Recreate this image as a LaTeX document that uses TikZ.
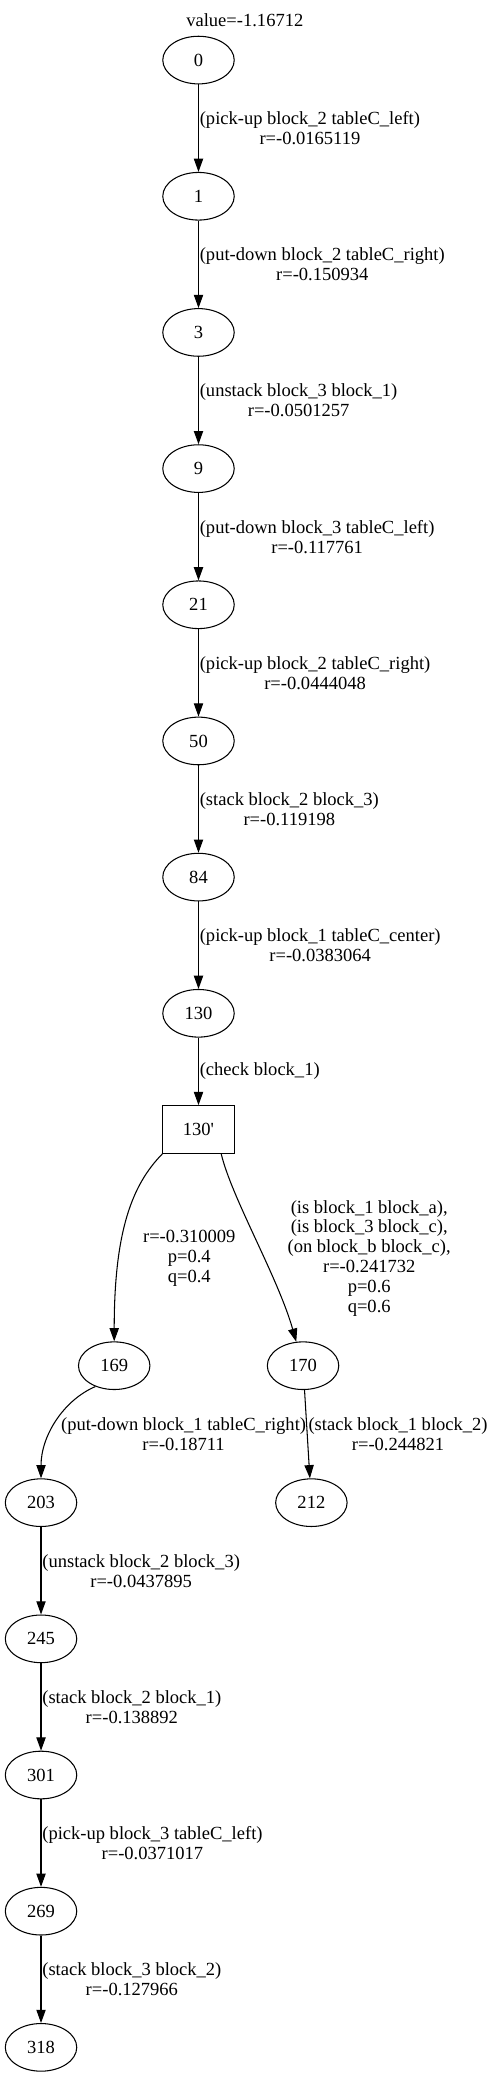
\documentclass[tikz,border=0pt]{standalone}
\usepackage{fontspec}
\setmainfont{Liberation Serif}
\usetikzlibrary{shapes.geometric,arrows.meta}
\begin{document}
\begin{tikzpicture}[x=1pt,y=-1pt,
  every node/.style={font=\fontsize{14}{15.1}\selectfont},
  st/.style={draw, ellipse, line width=0.8pt, minimum width=54pt, minimum height=36pt, inner sep=0pt},
  bx/.style={draw, rectangle, line width=0.8pt, minimum width=55pt, minimum height=36pt, inner sep=0pt},
  arr/.style={line width=0.8pt, -{Triangle[length=10pt,width=7pt]}},
  lbl/.style={anchor=west, align=center, inner sep=0.6pt},
  clbl/.style={align=center, inner sep=0pt}]
\useasboundingbox (0,0) rectangle (370,1568);
\node[inner sep=0pt] (title) at (185,15.6) {value=-1.16712};
\node[st] (n0) at (150,45.4) {0};
\node[st] (n1) at (150,148.3) {1};
\node[st] (n3) at (150,251.2) {3};
\node[st] (n9) at (150,354.1) {9};
\node[st] (n21) at (150,457) {21};
\node[st] (n50) at (150,559.9) {50};
\node[st] (n84) at (150,662.8) {84};
\node[st] (n130) at (150,765.7) {130};
\node[bx] (n130p) at (150,853.5) {130\textquotesingle};
\node[st] (n169) at (86.3,1032) {169};
\node[st] (n170) at (229,1032) {170};
\node[st] (n203) at (31,1135.5) {203};
\node[st] (n212) at (235.3,1135.5) {212};
\node[st] (n245) at (31,1238.4) {245};
\node[st] (n301) at (31,1341.3) {301};
\node[st] (n269) at (31,1444.2) {269};
\node[st] (n318) at (31,1547.1) {318};

\draw[arr] (n0) -- node[lbl] {(pick-up block\_2 tableC\_left)\\r=-0.0165119} (n1);
\draw[arr] (n1) -- node[lbl] {(put-down block\_2 tableC\_right)\\r=-0.150934} (n3);
\draw[arr] (n3) -- node[lbl] {(unstack block\_3 block\_1)\\r=-0.0501257} (n9);
\draw[arr] (n9) -- node[lbl] {(put-down block\_3 tableC\_left)\\r=-0.117761} (n21);
\draw[arr] (n21) -- node[lbl] {(pick-up block\_2 tableC\_right)\\r=-0.0444048} (n50);
\draw[arr] (n50) -- node[lbl] {(stack block\_2 block\_3)\\r=-0.119198} (n84);
\draw[arr] (n84) -- node[lbl] {(pick-up block\_1 tableC\_center)\\r=-0.0383064} (n130);
\draw[arr] (n130) -- node[lbl] {(check block\_1)} (n130p);

\draw[arr] (n130p.-146) .. controls (100,895) and (86.3,930) .. (n169);
\node[clbl] (l169) at (143,951) {r=-0.310009\\p=0.4\\q=0.4};
\draw[arr] (n130p.-47.5) .. controls (175,905) and (210,965) .. (n170);
\node[clbl] (l170) at (279,951) {(is block\_1 block\_a),\\(is block\_3 block\_c),\\(on block\_b block\_c),\\r=-0.241732\\p=0.6\\q=0.6};

\draw[arr] (n169.-132) .. controls (48,1058) and (31,1085) .. (n203);
\node[lbl] (l203) at (45.4,1084) {(put-down block\_1 tableC\_right)\\r=-0.18711};
\draw[arr] (n170) -- node[lbl] {(stack block\_1 block\_2)\\r=-0.244821} (n212);

\draw[arr] (n203) -- node[lbl] {(unstack block\_2 block\_3)\\r=-0.0437895} (n245);
\draw[arr] (n245) -- node[lbl] {(stack block\_2 block\_1)\\r=-0.138892} (n301);
\draw[arr] (n301) -- node[lbl] {(pick-up block\_3 tableC\_left)\\r=-0.0371017} (n269);
\draw[arr] (n269) -- node[lbl] {(stack block\_3 block\_2)\\r=-0.127966} (n318);
\end{tikzpicture}
\end{document}
